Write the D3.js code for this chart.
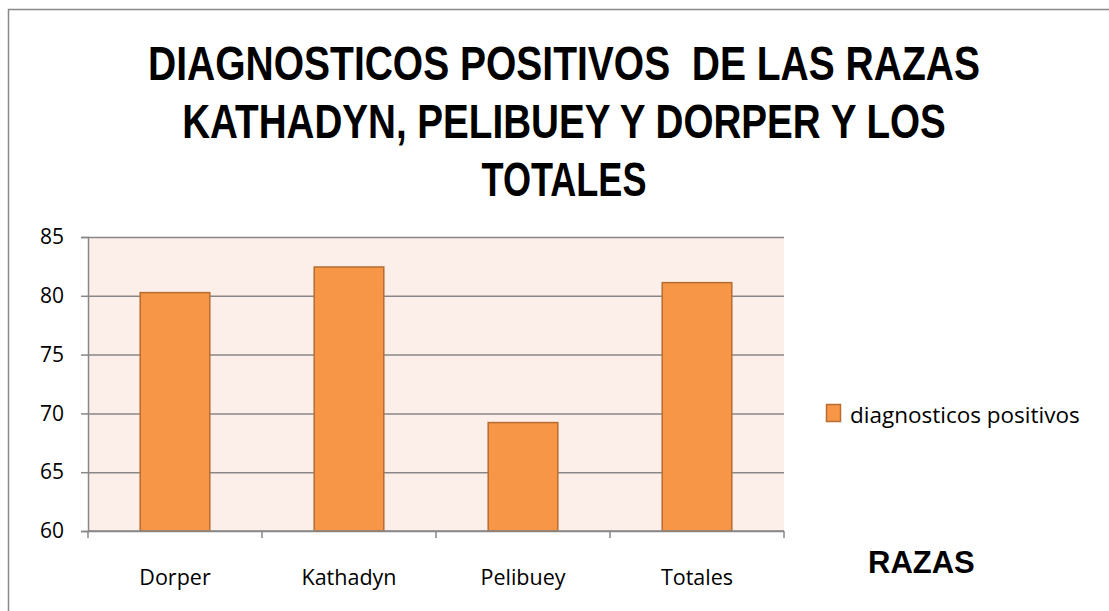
<!DOCTYPE html>
<meta charset="utf-8">
<style>
body{margin:0;background:#fff;font-family:"Open Sans",sans-serif;}
</style>
<body>
<div id="container"></div>
<script src="https://d3js.org/d3.v7.min.js"></script>
<script>

var width = 1109,
    height = 611;

var categories = ["Dorper", "Kathadyn", "Pelibuey", "Totales"];
var values = [80.27, 82.45, 69.22, 81.12];
var yTicks = [60, 65, 70, 75, 80, 85];
var seriesName = "diagnosticos positivos";
var titleLines = ["DIAGNOSTICOS POSITIVOS  DE LAS RAZAS", "KATHADYN, PELIBUEY Y DORPER Y LOS", "TOTALES"];
var titleWidths = [832, 764, 165];   // squeeze to mimic the condensed title font

var plot = {left: 88, right: 784, top: 237, bottom: 531};

var svg = d3.select("#container").append("svg")
    .attr("width", width)
    .attr("height", height);

// chart frame
svg.append("rect")
    .attr("x", 8.5).attr("y", 9.5)
    .attr("width", width).attr("height", height)
    .style("fill", "none")
    .style("stroke", "#898989")
    .style("stroke-width", 1.5);

// title: condensed by scaling each line horizontally
svg.selectAll(".title")
    .data(titleLines)
  .enter().append("text")
    .attr("class", "title")
    .attr("text-anchor", "middle")
    .style("white-space", "pre")
    .style("font-family", "'Liberation Sans', Arial, sans-serif")
    .style("font-weight", "bold")
    .style("font-size", "48px")
    .style("fill", "#000")
    .text(function(d) { return d; })
    .attr("transform", function(d, i) {
      var sx = titleWidths[i] / this.getComputedTextLength();
      return "translate(564," + (80 + i * 58) + ") scale(" + sx + ",1)";
    });

var x = d3.scaleBand()
    .domain(categories)
    .range([plot.left, plot.right])
    .paddingInner(0.6)
    .paddingOuter(0.3);

var y = d3.scaleLinear()
    .domain([60, 85])
    .range([plot.bottom, plot.top]);

svg.append("rect")
    .attr("x", plot.left).attr("y", plot.top)
    .attr("width", plot.right - plot.left)
    .attr("height", plot.bottom - plot.top)
    .style("fill", "#fceee9");

// gridlines
svg.append("g")
    .attr("transform", "translate(" + plot.left + ",0)")
    .call(d3.axisLeft(y).tickValues(yTicks).tickSize(-(plot.right - plot.left)).tickFormat(""))
    .call(function(g) { g.select(".domain").remove(); })
    .selectAll("line")
    .style("stroke", "#878787")
    .style("stroke-width", 1.5);

svg.selectAll(".bar")
    .data(values)
  .enter().append("rect")
    .attr("x", function(d, i) { return x(categories[i]); })
    .attr("y", function(d) { return y(d); })
    .attr("width", x.bandwidth())
    .attr("height", function(d) { return y(60) - y(d); })
    .style("fill", "#f79646")
    .style("stroke", "#b66d31")
    .style("stroke-width", 1.5);

// y axis
var yAxis = svg.append("g")
    .attr("transform", "translate(" + plot.left + ",0)")
    .call(d3.axisLeft(y).tickValues(yTicks).tickSize(7).tickPadding(17));
yAxis.select(".domain").style("stroke", "#878787").style("stroke-width", 1.5);
yAxis.selectAll("line").style("stroke", "#878787").style("stroke-width", 1.5);
yAxis.selectAll("text")
    .style("font-family", "'Open Sans', sans-serif")
    .style("font-size", "21px")
    .style("fill", "#000");

// x axis: ticks between categories
var xAxis = svg.append("g")
    .attr("transform", "translate(0," + plot.bottom + ")");
xAxis.append("line")
    .attr("x1", plot.left).attr("x2", plot.right)
    .style("stroke", "#878787").style("stroke-width", 1.5);
xAxis.selectAll(".tk")
    .data(d3.range(categories.length + 1))
  .enter().append("line")
    .attr("x1", function(i) { return plot.left + i * x.step(); })
    .attr("x2", function(i) { return plot.left + i * x.step(); })
    .attr("y1", 0).attr("y2", 7)
    .style("stroke", "#878787").style("stroke-width", 1.5);
xAxis.selectAll(".lbl")
    .data(categories)
  .enter().append("text")
    .attr("x", function(d) { return x(d) + x.bandwidth() / 2; })
    .attr("y", 54)
    .attr("text-anchor", "middle")
    .style("font-family", "'Open Sans', sans-serif")
    .style("font-size", "21.5px")
    .text(function(d) { return d; });

// legend
svg.append("rect")
    .attr("x", 826.5).attr("y", 404.5)
    .attr("width", 14).attr("height", 17)
    .style("fill", "#f79646")
    .style("stroke", "#b66d31")
    .style("stroke-width", 1.5);
svg.append("text")
    .attr("x", 850).attr("y", 423)
    .style("font-family", "'Open Sans', sans-serif")
    .style("font-size", "22.5px")
    .text(seriesName);

svg.append("text")
    .attr("x", 868).attr("y", 573)
    .style("font-family", "'Liberation Sans', Arial, sans-serif")
    .style("font-weight", "bold")
    .style("font-size", "31px")
    .text("RAZAS");

</script>
</body>
</html>
